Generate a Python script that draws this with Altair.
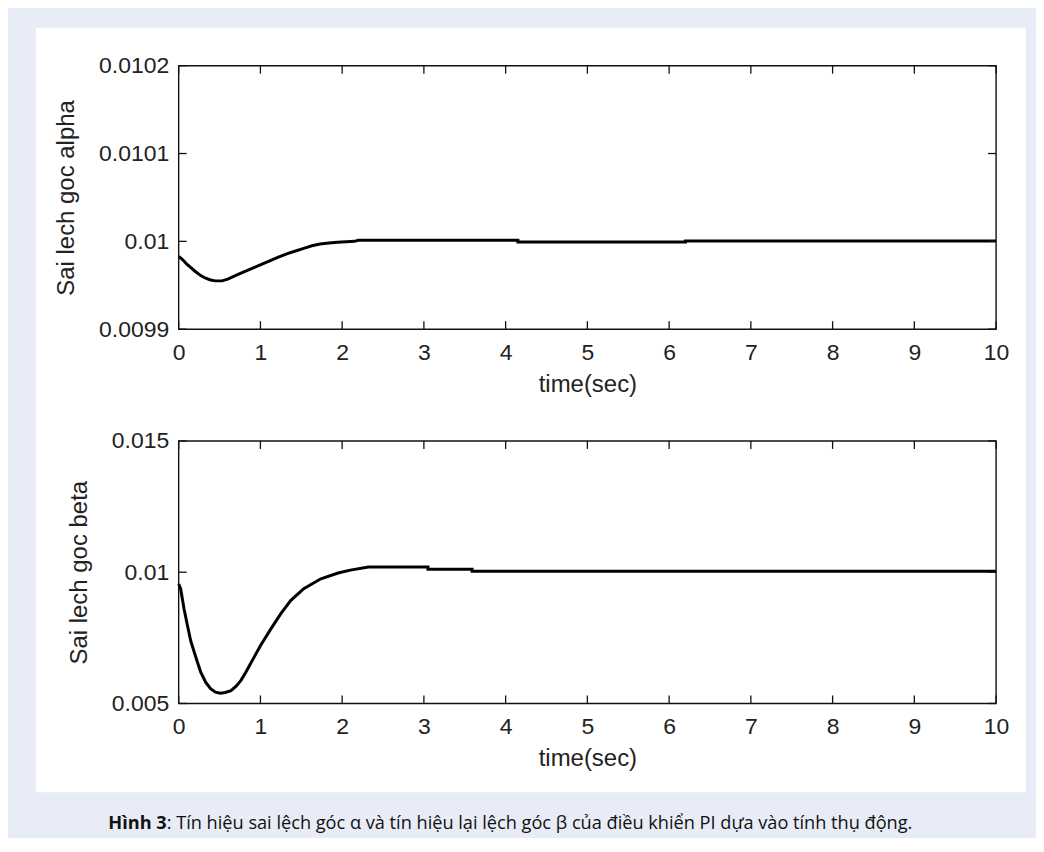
import altair as alt
import pandas as pd

# ---- data ----
t_alpha = [0.0, 0.05, 0.1, 0.15, 0.2, 0.27, 0.33, 0.39, 0.45, 0.53, 0.6, 0.72, 0.82, 0.92,
           1.02, 1.12, 1.22, 1.33, 1.43, 1.53, 1.63, 1.73, 1.84, 1.94, 2.05, 2.15, 2.2,
           4.15, 4.15, 6.2, 6.2, 10.0]
v_alpha = [0.009983, 0.009979, 0.009974, 0.009970, 0.009966, 0.009961, 0.009958, 0.009956,
           0.009955, 0.009955, 0.009957, 0.009962, 0.009966, 0.009970, 0.009974, 0.009978,
           0.009982, 0.009986, 0.009989, 0.009992, 0.009995, 0.009997, 0.009998, 0.009999,
           0.0099995, 0.0100000, 0.0100012, 0.0100012, 0.0099994, 0.0099994, 0.0100003,
           0.0100003]

t_beta = [0.0, 0.024, 0.065, 0.106, 0.147, 0.21, 0.27, 0.33, 0.39, 0.45, 0.51, 0.57, 0.64,
          0.7, 0.76, 0.82, 0.88, 0.94, 1.0, 1.13, 1.25, 1.37, 1.53, 1.74, 1.95, 2.1, 2.32,
          3.05, 3.05, 3.59, 3.59, 10.0]
v_beta = [0.00955, 0.00937, 0.00862, 0.00799, 0.00739, 0.00676, 0.00619, 0.00581, 0.00556,
          0.00543, 0.00539, 0.00542, 0.00549, 0.00565, 0.00587, 0.00618, 0.00652, 0.00686,
          0.00720, 0.00785, 0.00842, 0.00892, 0.00937, 0.00975, 0.00997, 0.01008, 0.01020,
          0.01020, 0.01011, 0.01011, 0.01004, 0.01004]

x_ticks = [0, 1, 2, 3, 4, 5, 6, 7, 8, 9, 10]
alpha_ticks = [0.0099, 0.0100, 0.0101, 0.0102]
beta_ticks = [0.005, 0.010, 0.015]

caption_bold = "Hình 3"
caption_rest = ": Tín hiệu sai lệch góc α và tín hiệu lại lệch góc β của điều khiển PI dựa vào tính thụ động."

W = 819
TICK = 8
FONT = "Liberation Sans"


def panel(t, v, yticks, ydom, fmt, ytitle, H, pre=None, post=None):
    df = pd.DataFrame({"t": t, "v": v, "i": list(range(len(t)))})
    xs = alt.Scale(domain=[0, 10], nice=False, zero=False)
    ys = alt.Scale(domain=ydom, nice=False, zero=False)
    xa = alt.Axis(values=x_ticks, format="d", title="time(sec)", zindex=1, labelFlush=False)
    ya = alt.Axis(values=yticks, format=fmt, title=ytitle, zindex=1, labelFlush=False)
    one = alt.Data(values=[{}])

    frame = alt.Chart(one).mark_rect(fill="transparent", stroke="#111", strokeWidth=1.4).encode(
        x=alt.value(0), x2=alt.value(W), y=alt.value(0), y2=alt.value(H))

    line = alt.Chart(df).mark_line(color="black", strokeWidth=3).encode(
        x=alt.X("t:Q", scale=xs, axis=xa),
        y=alt.Y("v:Q", scale=ys, axis=ya),
        order=alt.Order("i:Q"))

    xt = pd.DataFrame({"t": x_ticks})
    yt = pd.DataFrame({"v": yticks})
    tick_style = dict(color="#111", strokeWidth=1.3)
    bottom = alt.Chart(xt).mark_rule(**tick_style).encode(
        x=alt.X("t:Q", scale=xs, axis=xa), y=alt.value(H), y2=alt.value(H - TICK))
    top = alt.Chart(xt).mark_rule(**tick_style).encode(
        x=alt.X("t:Q", scale=xs, axis=xa), y=alt.value(0), y2=alt.value(TICK))
    left = alt.Chart(yt).mark_rule(**tick_style).encode(
        y=alt.Y("v:Q", scale=ys, axis=ya), x=alt.value(0), x2=alt.value(TICK))
    right = alt.Chart(yt).mark_rule(**tick_style).encode(
        y=alt.Y("v:Q", scale=ys, axis=ya), x=alt.value(W), x2=alt.value(W - TICK))

    layers = (pre or []) + [line, bottom, top, left, right, frame] + (post or [])
    return alt.layer(*layers).properties(width=W, height=H)


white_panel = alt.Chart(alt.Data(values=[{}])).mark_rect(fill="white").encode(
    x=alt.value(-143), x2=alt.value(849), y=alt.value(-38), y2=alt.value(728))

# invisible spacer fixing the bottom edge of the lavender page area
spacer = alt.Chart(alt.Data(values=[{}])).mark_rect(fill="#e8ecf6", opacity=0).encode(
    x=alt.value(0), x2=alt.value(10), y=alt.value(380), y2=alt.value(396))

cap_x = -12
cap_y = 384
cap1 = alt.Chart(alt.Data(values=[{}])).mark_text(
    text=caption_bold, font="Open Sans", fontSize=18.2, fontWeight="bold", align="right",
    baseline="middle", color="#111").encode(x=alt.value(cap_x), y=alt.value(cap_y))
cap2 = alt.Chart(alt.Data(values=[{}])).mark_text(
    text=caption_rest, font="Open Sans", fontSize=18.2, align="left",
    baseline="middle", color="#111").encode(x=alt.value(cap_x), y=alt.value(cap_y))

p1 = panel(t_alpha, v_alpha, alpha_ticks, [0.0099, 0.0102], ".4~f", "Sai lech goc alpha", 264,
           pre=[white_panel])
p2 = panel(t_beta, v_beta, beta_ticks, [0.005, 0.015], ".3~f", "Sai lech goc beta", 263,
           post=[spacer, cap1, cap2])

chart = alt.vconcat(p1, p2, spacing=112, bounds="flush").properties(
    background="#e8ecf6",
    padding={"left": 27, "top": 18, "right": 9, "bottom": 0},
).configure_view(stroke="transparent").configure_axis(
    labelFont=FONT, labelFontSize=23, labelColor="#222",
    titleFont=FONT, titleFontSize=24, titleColor="#222", titleFontWeight="normal",
    domain=False, ticks=False, tickSize=0, grid=False,
    labelPadding=10,
).configure_axisX(labelPadding=12, titlePadding=8).configure_axisY(titlePadding=20)

chart.save("out.html", embed_options={"renderer": "svg", "actions": False})
